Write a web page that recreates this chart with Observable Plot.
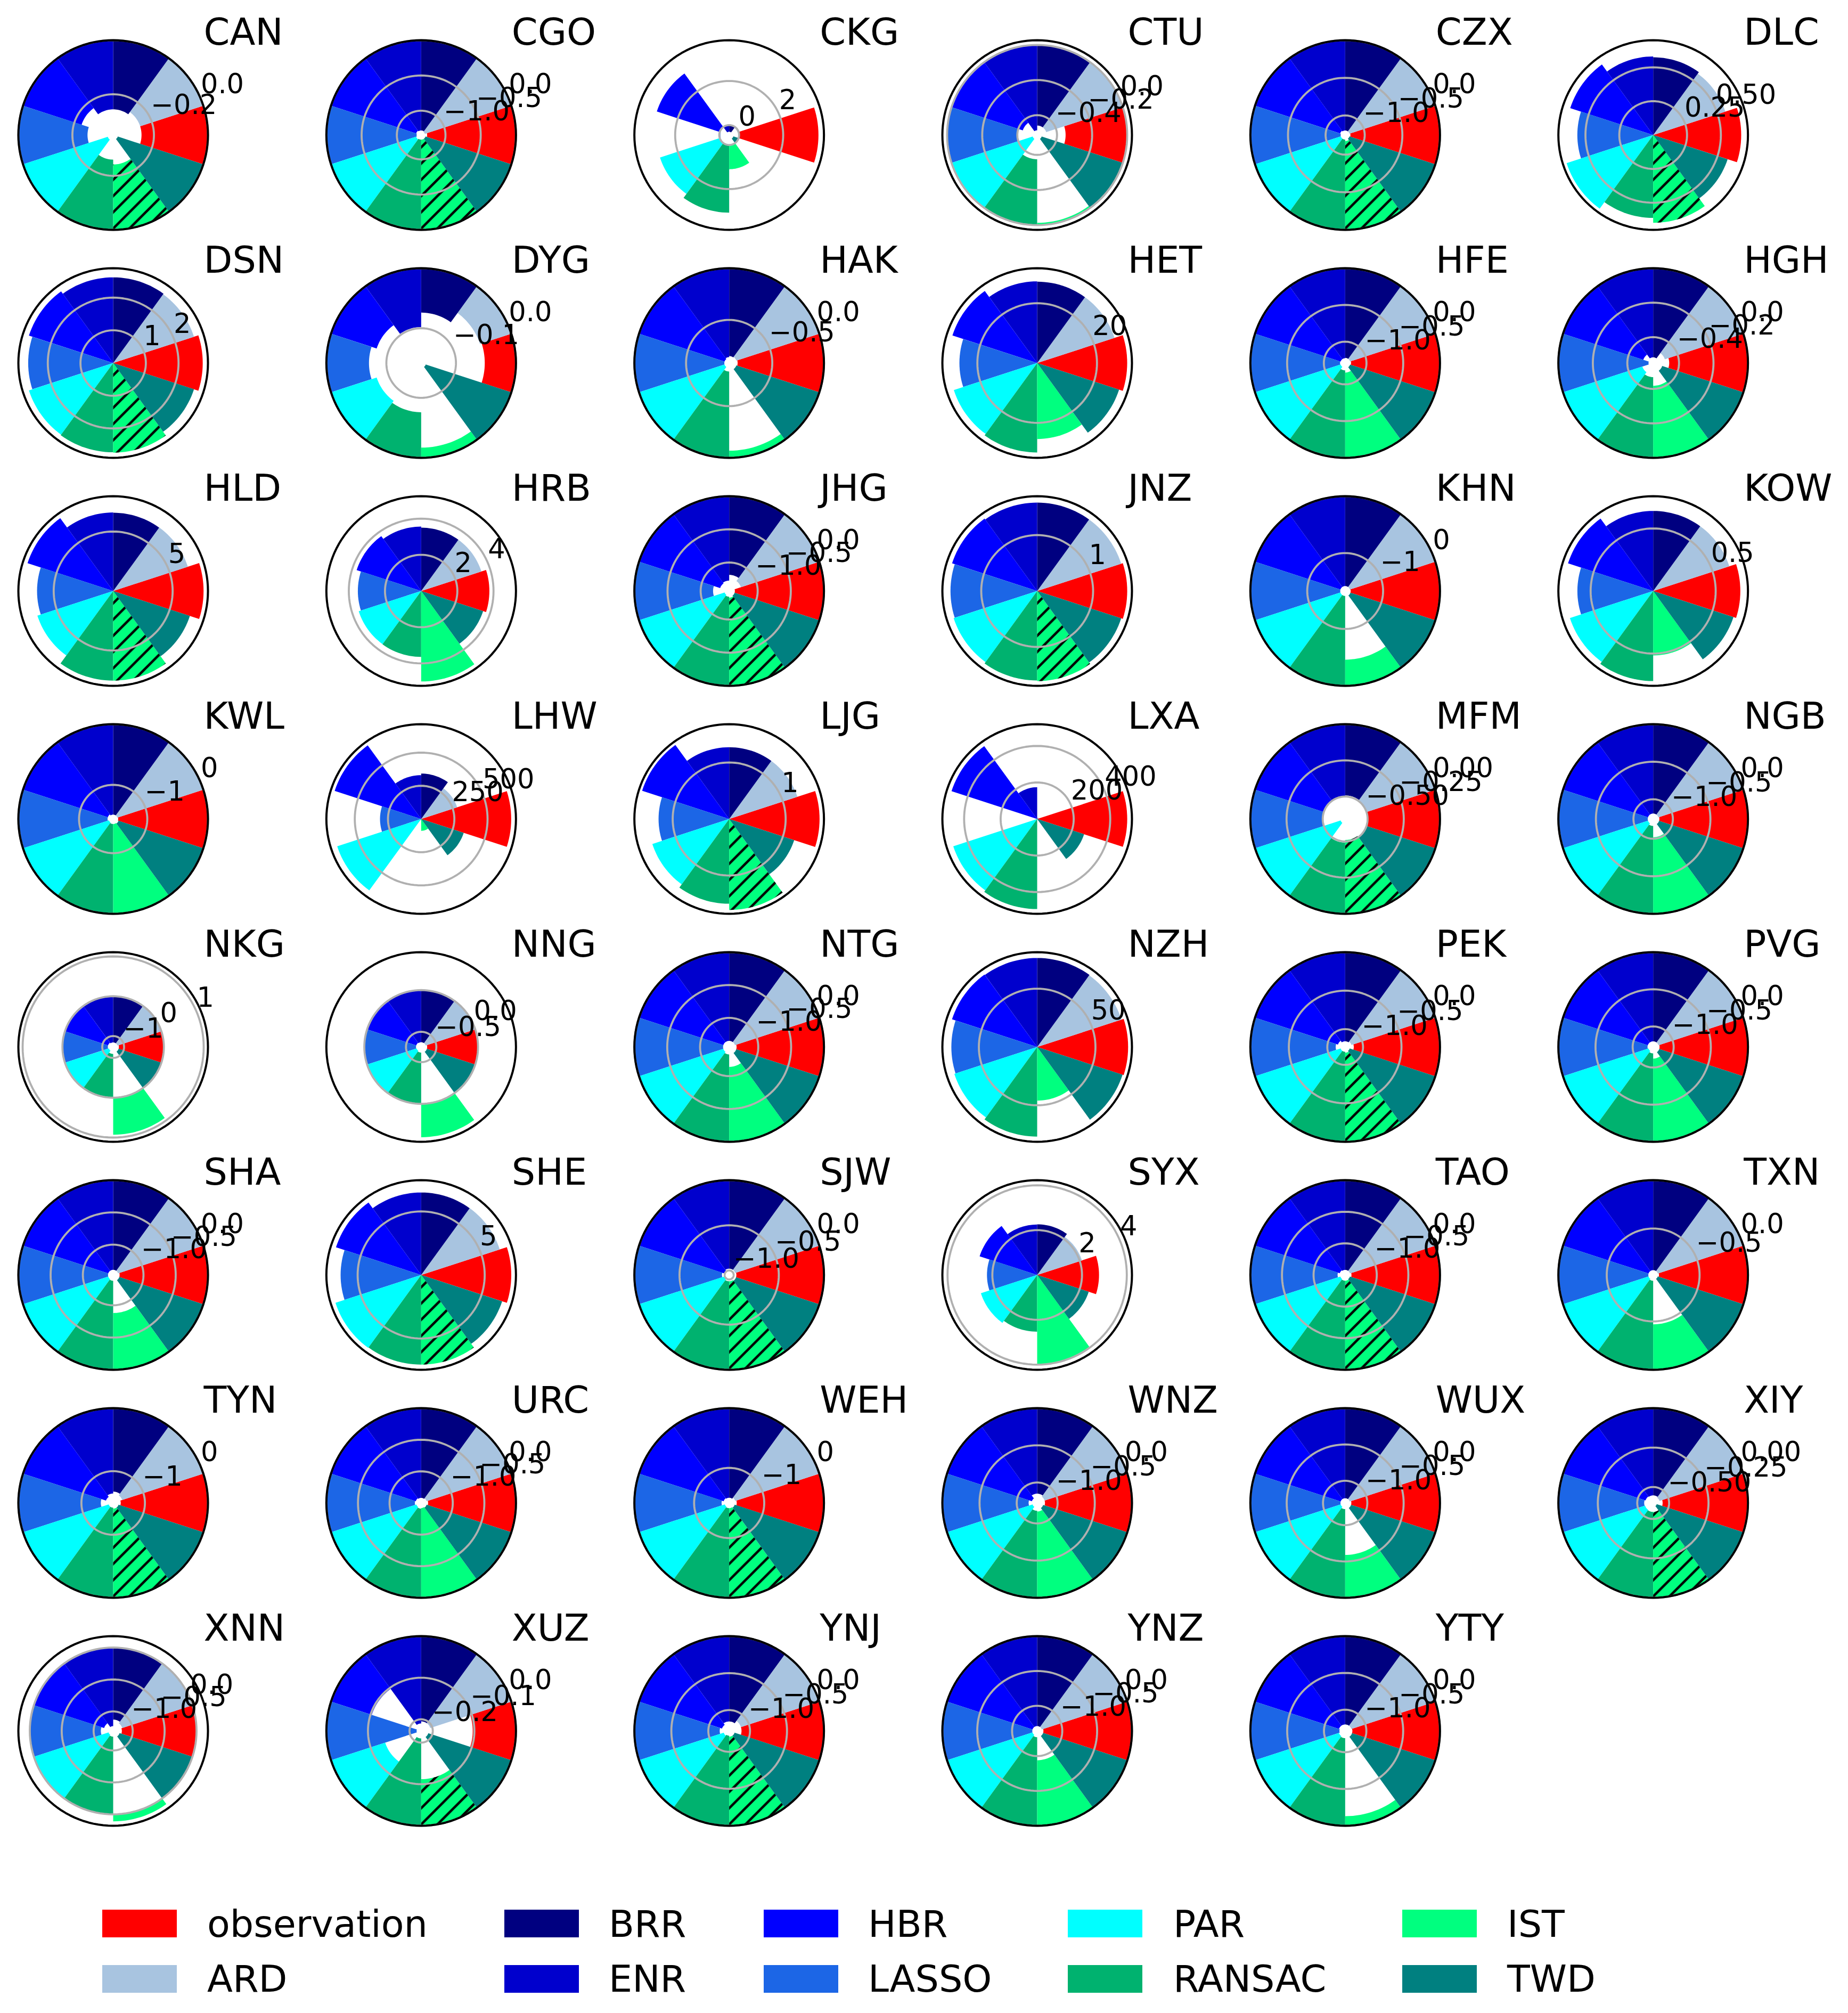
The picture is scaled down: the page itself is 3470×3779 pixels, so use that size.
<!DOCTYPE html>
<html>
<head>
<meta charset="utf-8">
<script src="https://cdn.jsdelivr.net/npm/d3@7"></script>
<script src="https://cdn.jsdelivr.net/npm/@observablehq/plot@0.6"></script>
<style>
html,body{margin:0;padding:0;background:#fff;overflow:hidden}
#page{position:relative;width:3470px;height:3779px;font-family:"DejaVu Sans",sans-serif;color:#000}
.sw{position:absolute;width:140px;height:52px}
.lb{position:absolute;font-size:70px;line-height:70px;white-space:nowrap}
</style>
</head>
<body>
<div id="page"></div>
<script>
const models=["observation","ARD","BRR","ENR","HBR","LASSO","PAR","RANSAC","IST","TWD"];
const modelColors=["#ff0000","#a8c4e0","#000080","#0000cd","#0000ff","#1c66e6","#00ffff","#00b26f","#00ff7f","#008080"];
const cities=["CAN","CGO","CKG","CTU","CZX","DLC","DSN","DYG","HAK","HET","HFE","HGH","HLD","HRB","JHG","JNZ","KHN","KOW","KWL","LHW","LJG","LXA","MFM","NGB","NKG","NNG","NTG","NZH","PEK","PVG","SHA","SHE","SJW","SYX","TAO","TXN","TYN","URC","WEH","WNZ","WUX","XIY","XNN","XUZ","YNJ","YNZ","YTY"];
const hatchedIST=["CAN","CGO","CZX","DLC","DSN","HLD","JHG","JNZ","LJG","MFM","PEK","SHE","SJW","TAO","TYN","WEH","XIY","XUZ","YNJ"];
const rMin=[-.351,-1.345,-.45,-.513,-1.26,0,0,-.158,-.917,0,-1.29,-.55,0,0,-1.43,0,-1.667,0,-1.5625,0,0,0,-.655,-1.2625,-1.274,-.682,-1.443,0,-1.232,-1.276,-1.47,0,-1.05,0,-1.5,-.98,-1.504,-1.5,-1.587,-1.275,-1.305,-.601,-1.306,-.228,-1.282,-1.36,-1.288];
const rMax=[0,0,3.85,.027,0,.70,2.9,0,0,31.7,0,0,7.97,5.24,0,1.695,0,.758,0,714,1.678,519,0,0,1.107,.455,0,81.3,0,0,0,7.46,0,4.23,0,0,0,0,0,0,0,0,.179,0,0,0,0];
const t05=["0.0","−0.5","−1.0"];
const t02=["0.0","−0.2","−0.4"];
const t25=["0.00","−0.25","−0.50"];
const t5=["0.0","−0.5"];
const t1=["0","−1"];
const tickLabels=[["0.0","−0.2"],t05,["0","2"],t02,t05,["0.25","0.50"],["1","2"],["0.0","−0.1"],t5,["20"],t05,t02,["5"],["2","4"],t05,["1"],t1,["0.5"],t1,["250","500"],["1"],["200","400"],t25,t05,["1","0","−1"],t5,t05,["50"],t05,t05,t05,["5"],t05,["2","4"],t05,t5,t1,t05,t1,t05,t05,t25,t05,["0.0","−0.1","−0.2"],t05,t05,t05];

const CAN=[-.246,-.246,-.256,-.256,-.228,-.256,-.330,-.260,-.242,-.333];
const CGO=[-1.26,-1.29,-1.28,-1.28,-1.27,-1.28,-1.27,-1.28,-1.28,-1.28];
const CKG=[3.6,-.05,-.3,-.3,3.0,-.05,2.85,3.07,1.1,-.25];
const CTU=[-.351,-.459,-.459,-.486,-.427,-.40,-.486,-.375,-.013,-.486];
const CZX=[-1.19,-1.2,-1.2,-1.2,-1.19,-1.2,-1.2,-1.2,-1.18,-1.2];
const DLC=[.65,.56,.574,.58,.644,.56,.672,.612,.648,.578];
const DSN=[2.74,2.6,2.62,2.62,2.71,2.6,2.71,2.73,2.74,2.6];
const DYG=[-.052,-.055,-.074,-.098,-.08,-.071,-.08,-.076,-.017,-.15];
const HAK=[-.835,-.844,-.85,-.86,-.87,-.87,-.87,-.835,-.069,-.844];
const HET=[30.1,27.2,27.2,27.3,29.8,26,29.3,29.9,25.4,28.8];
const HFE=[-1.21,-1.22,-1.22,-1.225,-1.225,-1.22,-1.225,-1.19,-1.16,-1.22];
const HGH=[-.457,-.479,-.517,-.517,-.49,-.523,-.484,-.468,-.418,-.495];
const HLD=[7.6,6.6,6.58,6.6,7.57,6.4,6.7,7.53,7.53,6.78];
const HRB=[3.77,3.5,3.5,3.56,3.75,3.5,3.63,3.64,5.0,3.6];
const JHG=[-1.344,-1.244,-1.187,-1.273,-1.287,-1.187,-1.358,-1.344,-1.33,-1.344];
const JNZ=[1.61,1.58,1.58,1.58,1.6,1.55,1.57,1.6,1.61,1.58];
const KHN=[-1.57,-1.58,-1.58,-1.58,-1.58,-1.58,-1.58,-1.58,-.46,-1.57];
const KOW=[.697,.64,.64,.64,.716,.606,.70,.72,.515,.675];
const KWL=[-1.48,-1.49,-1.49,-1.49,-1.47,-1.47,-1.49,-1.48,-1.48,-1.47];
const LHW=[678,285,342,330,685,310,665,8,89,337];
const LJG=[1.6,1.27,1.27,1.27,1.62,1.25,1.43,1.5,1.61,1.21];
const LXA=[493,10,6,174,493,5,483,493,2,270];
const MFM=[-.498,-.498,-.492,-.498,-.5,-.498,-.622,-.492,-.51,-.498];
const NGB=[-1.18,-1.19,-1.19,-1.19,-1.19,-1.19,-1.19,-1.17,-1.02,-1.18];
const NKG=[-1.13,-1.16,-1.16,-1.16,-1.14,-1.14,-1.16,-1.1,.93,-1.13];
const NNG=[-.61,-.625,-.625,-.625,-.62,-.62,-.625,-.615,.40,-.61];
const NTG=[-1.33,-1.35,-1.35,-1.35,-1.35,-1.35,-1.35,-1.33,-1.14,-1.33];
const NZH=[78,76,76.3,76.3,76.8,73.6,74.7,76.8,46,77];
const PEK=[-1.12,-1.146,-1.158,-1.158,-1.133,-1.109,-1.17,-1.17,-1.158,-1.17];
const PVG=[-1.19,-1.2,-1.2,-1.2,-1.2,-1.2,-1.21,-1.19,-1.12,-1.19];
const SHA=[-1.37,-1.39,-1.39,-1.39,-1.39,-1.39,-1.39,-1.38,-.88,-1.37];
const SHE=[7.09,6.5,6.49,6.49,7.05,6.34,7.09,7.05,7.05,6.7];
const SJW=[-.97,-.98,-.98,-.98,-1.0,-.97,-1.0,-.98,-.98,-.97];
const SYX=[2.76,2.1,2.26,2.25,2.7,2.24,2.64,2.53,3.97,2.42];
const TAO=[-1.40,-1.42,-1.42,-1.42,-1.41,-1.38,-1.42,-1.41,-1.41,-1.42];
const TXN=[-.92,-.93,-.93,-.93,-.93,-.93,-.93,-.92,-.47,-.93];
const TYN=[-1.384,-1.354,-1.324,-1.354,-1.384,-1.308,-1.429,-1.429,-1.414,-1.414];
const URC=[-1.39,-1.41,-1.42,-1.42,-1.41,-1.4,-1.42,-1.41,-1.42,-1.41];
const WEH=[-1.46,-1.48,-1.5,-1.5,-1.49,-1.46,-1.51,-1.5,-1.5,-1.49];
const WNZ=[-1.17,-1.17,-1.15,-1.15,-1.2,-1.16,-1.21,-1.17,-1.16,-1.19];
const WUX=[-1.22,-1.24,-1.24,-1.24,-1.24,-1.24,-1.24,-1.22,-.59,-1.22];
const XIY=[-.541,-.559,-.553,-.553,-.55,-.544,-.547,-.544,-.544,-.577];
const XNN=[-1.17,-1.157,-1.128,-1.23,-1.157,-1.113,-1.23,-1.217,.11,-1.2];
const XUZ=[-.104,-.205,-.205,-.21,-.103,-.217,-.137,-.21,-.112,-.21];
const YNJ=[-1.115,-1.115,-1.154,-1.154,-1.18,-1.154,-1.205,-1.218,-1.205,-1.205];
const YNZ=[-1.27,-1.29,-1.29,-1.29,-1.29,-1.29,-1.29,-1.27,-.94,-1.27];
const YTY=[-1.19,-1.2,-1.2,-1.2,-1.2,-1.21,-1.2,-1.19,-.13,-1.19];
const table=[CAN,CGO,CKG,CTU,CZX,DLC,DSN,DYG,HAK,HET,HFE,HGH,HLD,HRB,JHG,JNZ,KHN,KOW,KWL,LHW,LJG,LXA,MFM,NGB,NKG,NNG,NTG,NZH,PEK,PVG,SHA,SHE,SJW,SYX,TAO,TXN,TYN,URC,WEH,WNZ,WUX,XIY,XNN,XUZ,YNJ,YNZ,YTY];

// Layout of the grid, in pixels of the reference
const NCOL=6, NROW=8, RAD=178, CELLW=3470/NCOL, CELLH=428, CX=212, CY=253, H=3440;
const rad=d=>d*Math.PI/180;
const norm=(v,i)=>(v-rMin[i])/(rMax[i]-rMin[i]);
const cellOf=i=>({col:i%NCOL,row:Math.floor(i/NCOL)});

// polar -> cartesian sector outlines
const wedges=[];
cities.forEach((city,i)=>{
  table[i].forEach((v,k)=>{
    const r0=norm(0,i), r1=norm(v,i);
    const a0=k*36-18, a1=a0+36, n=14;
    const id=city+k;
    const base={id,city,model:models[k],...cellOf(i),hatched:models[k]==="IST"&&hatchedIST.includes(city)};
    for(let s=0;s<=n;s++){const a=rad(a0+(a1-a0)*s/n);wedges.push({...base,x:r1*Math.cos(a),y:r1*Math.sin(a)});}
    for(let s=n;s>=0;s--){const a=rad(a0+(a1-a0)*s/n);wedges.push({...base,x:r0*Math.cos(a),y:r0*Math.sin(a)});}
  });
});
const circle=(r,id,extra)=>d3.range(0,120).map(s=>{const a=rad(s*3);return{id,...extra,x:r*Math.cos(a),y:r*Math.sin(a)};});
const rings=[], borders=[], labels=[], titles=[];
cities.forEach((city,i)=>{
  const c=cellOf(i);
  borders.push(...circle(1,city+"o",c));
  titles.push({city,...c});
  tickLabels[i].forEach((t,j)=>{
    const r=norm(Number(t.replace("−","-")),i);
    rings.push(...circle(r,city+"r"+j,c));
    labels.push({t,...c,x:r*Math.cos(rad(22.5)),y:r*Math.sin(rad(22.5))});
  });
});

const chart=Plot.plot({
  width:3470,height:H,
  marginLeft:0,marginRight:0,marginTop:0,marginBottom:H-CELLH*NROW,
  style:{fontFamily:"DejaVu Sans",background:"white",color:"black"},
  fx:{axis:null,padding:0,round:false,domain:d3.range(NCOL)},
  fy:{axis:null,padding:0,round:false,domain:d3.range(NROW)},
  x:{axis:null,domain:[-CX/RAD,(CELLW-CX)/RAD]},
  y:{axis:null,domain:[-(CELLH-CY)/RAD,CY/RAD]},
  color:{domain:models,range:modelColors},
  marks:[
    Plot.line(wedges,{x:"x",y:"y",z:"id",fx:"col",fy:"row",fill:"model",stroke:"none",curve:"linear-closed"}),
    Plot.line(wedges.filter(d=>d.hatched),{x:"x",y:"y",z:"id",fx:"col",fy:"row",fill:"url(#hatch)",stroke:"none",curve:"linear-closed"}),
    Plot.line(rings,{x:"x",y:"y",z:"id",fx:"col",fy:"row",stroke:"#b0b0b0",strokeWidth:3.8,curve:"linear-closed"}),
    Plot.line(borders,{x:"x",y:"y",z:"id",fx:"col",fy:"row",stroke:"#000",strokeWidth:4,curve:"linear-closed"}),
    Plot.text(labels,{x:"x",y:"y",fx:"col",fy:"row",text:"t",fontSize:51,textAnchor:"start",lineAnchor:"bottom",dy:-10,fill:"#000"}),
    Plot.text(titles,{x:()=>0,y:()=>0,fx:"col",fy:"row",text:"city",fontSize:70,textAnchor:"start",lineAnchor:"bottom",dx:170,dy:-170,fill:"#000"})
  ]
});
const ns="http://www.w3.org/2000/svg";
const defs=document.createElementNS(ns,"defs");
defs.innerHTML='<pattern id="hatch" patternUnits="userSpaceOnUse" width="30.5" height="30.5"><path d="M-8,8L8,-8M0,30.5L30.5,0M22.5,38.5L38.5,22.5" stroke="#000" stroke-width="4.6" fill="none"/></pattern>';
chart.insertBefore(defs,chart.firstChild);
chart.style.position="absolute";chart.style.left="0";chart.style.top="0";chart.style.maxWidth="none";
const page=document.getElementById("page");
page.appendChild(chart);

// Legend, two rows of five columns, added below the SVG
const swatchX=[192,947,1434,2005,2633], textX=[389,1143,1630,2203,2830];
const swatchY=[3585,3689], textY=[3577,3680];
models.forEach((m,k)=>{
  const col=Math.floor(k/2), row=k%2;
  const s=document.createElement("div");s.className="sw";s.style.left=swatchX[col]+"px";s.style.top=swatchY[row]+"px";s.style.background=modelColors[k];page.appendChild(s);
  const t=document.createElement("div");t.className="lb";t.style.left=textX[col]+"px";t.style.top=textY[row]+"px";t.textContent=m;page.appendChild(t);
});
</script>
</body>
</html>
